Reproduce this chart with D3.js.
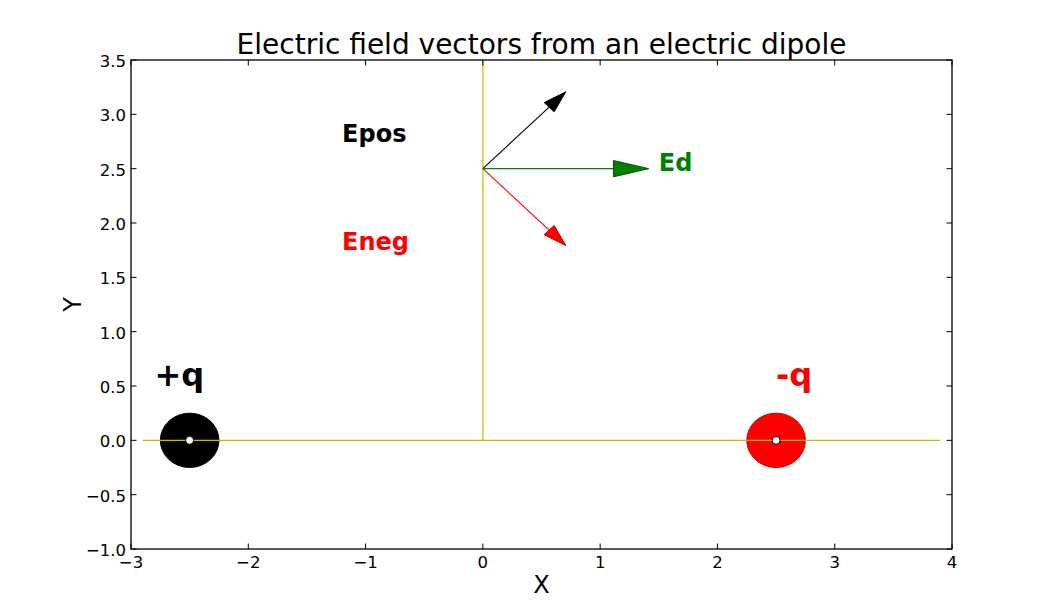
<!DOCTYPE html>
<html>
<head>
<meta charset="utf-8">
<script src="https://cdn.jsdelivr.net/npm/d3@7"></script>
<style>
  html, body { margin: 0; padding: 0; background: #fff; }
  svg { display: block; font-family: "DejaVu Sans", sans-serif; }
</style>
</head>
<body>
<svg id="chart" width="1058" height="612"></svg>
<script>
// ---- data ----
const xTicks = [-3, -2, -1, 0, 1, 2, 3, 4];
const yTicks = [-1.0, -0.5, 0.0, 0.5, 1.0, 1.5, 2.0, 2.5, 3.0, 3.5];
const xDomain = [-3, 4];
const yDomain = [-1, 3.5];

// charges: x, y, radius, colour
const chargeX = [-2.5, 2.5];
const chargeY = [0, 0];
const chargeR = [0.25, 0.25];
const chargeColor = ["#000000", "#ff0000"];
const chargeEdge = ["#000000", "#cc0000"];
const chargeLabels = ["+q", "-q"];
const chargeLabelX = [-2.8, 2.5];
const chargeLabelY = [0.5, 0.5];

// axis guide lines (olive/yellow)
const hLineX = [-2.9, 3.9];
const hLineY = [0, 0];
const vLineX = [0, 0];
const vLineY = [0, 3.5];

// field vectors from observation point
const obsPoint = [0, 2.5];
const vecNames = ["Epos", "Eneg", "Ed"];
const vecDX = [0.707, 0.707, 1.414];
const vecDY = [0.707, -0.707, 0];
const vecColor = ["#000000", "#ff0000", "#008000"];
const vecEdge = ["#000000", "#aa0000", "#005500"];
const headWidth = [0.12, 0.12, 0.15];
const headLength = [0.2, 0.2, 0.3];
const labelX = [-1.2, -1.2, 1.5];
const labelY = [2.75, 1.75, 2.48];

// ---- layout ----
const svg = d3.select("#chart");
const margin = { left: 131, right: 1058 - 952, top: 60, bottom: 612 - 549 };
const W = 1058, H = 612;

const x = d3.scaleLinear().domain(xDomain).range([margin.left, W - margin.right]);
const y = d3.scaleLinear().domain(yDomain).range([H - margin.bottom, margin.top]);

const fmtY = v => d3.format(".1f")(v).replace("-", "\u2212");
const fmtX = v => d3.format("d")(v).replace("-", "\u2212");

const plot = svg.append("g");
const line = d3.line().x(d => x(d[0])).y(d => y(d[1]));

// charges
const charges = d3.range(chargeX.length).map(i => ({
  x: chargeX[i], y: chargeY[i], r: chargeR[i], c: chargeColor[i], e: chargeEdge[i]
}));
plot.selectAll("ellipse.charge").data(charges).join("ellipse")
  .attr("class", "charge")
  .attr("cx", d => x(d.x)).attr("cy", d => y(d.y))
  .attr("rx", d => x(d.x + d.r) - x(d.x))
  .attr("ry", d => y(d.y) - y(d.y + d.r))
  .attr("fill", d => d.c).attr("stroke", d => d.e).attr("stroke-width", 1);

// guide lines on top of charges
plot.append("path")
  .attr("d", line(d3.zip(hLineX, hLineY)))
  .attr("stroke", "#bfbf00").attr("stroke-width", 1.2).attr("fill", "none");
plot.append("path")
  .attr("d", line(d3.zip(vLineX, vLineY)))
  .attr("stroke", "#bfbf00").attr("stroke-width", 1.2).attr("fill", "none");

// centre dots
plot.selectAll("circle.dot").data(charges).join("circle")
  .attr("class", "dot")
  .attr("cx", d => x(d.x)).attr("cy", d => y(d.y)).attr("r", 4)
  .attr("fill", "#fff").attr("stroke", "#000").attr("stroke-width", 1);

// vectors
const vecs = d3.range(vecNames.length).map(i => ({
  name: vecNames[i], dx: vecDX[i], dy: vecDY[i], c: vecColor[i], e: vecEdge[i],
  hw: headWidth[i], hl: headLength[i], lx: labelX[i], ly: labelY[i]
}));
vecs.forEach(v => {
  const x0 = obsPoint[0], y0 = obsPoint[1];
  const len = Math.hypot(v.dx, v.dy);
  const ux = v.dx / len, uy = v.dy / len;
  const px = -uy, py = ux;
  const tx = x0 + v.dx, ty = y0 + v.dy;
  const bx = tx - ux * v.hl, by = ty - uy * v.hl;
  plot.append("line")
    .attr("x1", x(x0)).attr("y1", y(y0)).attr("x2", x(bx)).attr("y2", y(by))
    .attr("stroke", v.c).attr("stroke-width", 1.1);
  const pts = [
    [tx, ty],
    [bx + px * v.hw / 2, by + py * v.hw / 2],
    [bx - px * v.hw / 2, by - py * v.hw / 2]
  ];
  plot.append("polygon")
    .attr("points", pts.map(p => [x(p[0]), y(p[1])].join(",")).join(" "))
    .attr("fill", v.c).attr("stroke", v.e).attr("stroke-width", 1).attr("stroke-linejoin", "miter");
  plot.append("text")
    .attr("x", x(v.lx)).attr("y", y(v.ly))
    .attr("fill", v.c).attr("font-size", 24).attr("font-weight", "bold")
    .text(v.name);
});

// charge labels
charges.forEach((d, i) => {
  plot.append("text")
    .attr("x", x(chargeLabelX[i])).attr("y", y(chargeLabelY[i]))
    .attr("fill", chargeColor[i]).attr("font-size", 32).attr("font-weight", "bold")
    .text(chargeLabels[i]);
});

// frame
const x0p = x(xDomain[0]), x1p = x(xDomain[1]), y0p = y(yDomain[0]), y1p = y(yDomain[1]);
svg.append("rect")
  .attr("x", x0p).attr("y", y1p).attr("width", x1p - x0p).attr("height", y0p - y1p)
  .attr("fill", "none").attr("stroke", "#000").attr("stroke-width", 1.3);

// ticks (inward, both sides)
const tl = 5.5;
const axes = svg.append("g");
xTicks.forEach(t => {
  axes.append("line").attr("x1", x(t)).attr("x2", x(t)).attr("y1", y0p).attr("y2", y0p - tl)
    .attr("stroke", "#000").attr("stroke-width", 1);
  axes.append("line").attr("x1", x(t)).attr("x2", x(t)).attr("y1", y1p).attr("y2", y1p + tl)
    .attr("stroke", "#000").attr("stroke-width", 1);
  axes.append("text").attr("x", x(t)).attr("y", y0p + 19)
    .attr("text-anchor", "middle").attr("font-size", 16.5).text(fmtX(t));
});
yTicks.forEach(t => {
  axes.append("line").attr("x1", x0p).attr("x2", x0p + tl).attr("y1", y(t)).attr("y2", y(t))
    .attr("stroke", "#000").attr("stroke-width", 1);
  axes.append("line").attr("x1", x1p).attr("x2", x1p - tl).attr("y1", y(t)).attr("y2", y(t))
    .attr("stroke", "#000").attr("stroke-width", 1);
  axes.append("text").attr("x", x0p - 5).attr("y", y(t)).attr("dy", "0.43em")
    .attr("text-anchor", "end").attr("font-size", 16.5).text(fmtY(t));
});

// titles
svg.append("text").attr("x", (x0p + x1p) / 2).attr("y", 54)
  .attr("text-anchor", "middle").attr("font-size", 28)
  .text("Electric field vectors from an electric dipole");
svg.append("text").attr("x", (x0p + x1p) / 2).attr("y", 593)
  .attr("text-anchor", "middle").attr("font-size", 24).text("X");
svg.append("text")
  .attr("transform", `translate(81, ${(y0p + y1p) / 2}) rotate(-90)`)
  .attr("text-anchor", "middle").attr("font-size", 24).text("Y");
</script>
</body>
</html>
